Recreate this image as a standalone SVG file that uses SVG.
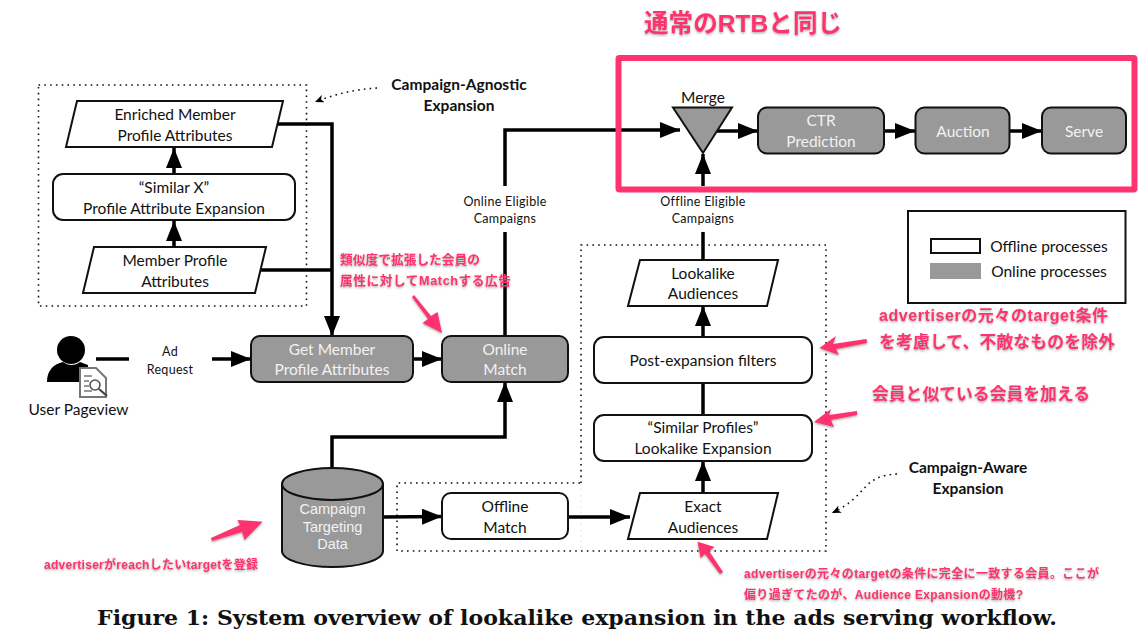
<svg xmlns="http://www.w3.org/2000/svg" width="1148" height="643" viewBox="0 0 1148 643">
<style>
text{font-family:"Lato","Open Sans",sans-serif;text-anchor:middle;fill:#111}
.l{font-size:15.5px}.w{font-size:15.5px;fill:#f2f2f2}
.s{font-size:12.5px;letter-spacing:.3px}
.b{font-size:15.5px;font-weight:700}
.d{font-family:"Liberation Sans",sans-serif;font-size:14.5px;fill:#f2f2f2}
.box{fill:#fff;stroke:#111;stroke-width:2}
.on{fill:#999;stroke:#111;stroke-width:2}
.c{fill:none;stroke:#000;stroke-width:3.5}
.dot{fill:none;stroke:#111;stroke-width:1.6;stroke-dasharray:1.6 4.2}
.p{font-family:"Liberation Sans","Noto Sans CJK JP",sans-serif;font-weight:700;fill:#ff3370;text-anchor:start;filter:url(#sh)}
.pa{fill:#ff3370;filter:url(#sh)}
</style>
<defs>
<marker id="a" markerUnits="userSpaceOnUse" markerWidth="20" markerHeight="16" refX="20" refY="8" orient="auto"><path d="M0 0L20 8L0 16z" fill="#000"/></marker>
<marker id="d" markerUnits="userSpaceOnUse" markerWidth="10" markerHeight="8" refX="9" refY="4" orient="auto"><path d="M0 0L9 4L0 8L2.5 4z" fill="#000"/></marker>
<filter id="sh" x="-10%" y="-30%" width="120%" height="170%"><feDropShadow dx="0" dy="1.2" stdDeviation="1" flood-color="#555" flood-opacity=".55"/></filter>
</defs>

<g id="regions">
<rect class="dot" x="38.5" y="85" width="268" height="221"/>
<path class="dot" d="M581 483V245H826V551H397V483H581"/>
<path d="M581 483V551" fill="none" stroke="#ddd" stroke-width="1" stroke-dasharray="1.6 4.2"/>
</g>

<g id="connectors">
<path class="c" d="M278 124H332V336" marker-end="url(#a)"/>
<path class="c" d="M261 270H332"/>
<path class="c" d="M174 174V148" marker-end="url(#a)"/>
<path class="c" d="M174 247V221" marker-end="url(#a)"/>
<path class="c" d="M96 359H129"/>
<path class="c" d="M212 359H251" marker-end="url(#a)"/>
<path class="c" d="M413 359H442" marker-end="url(#a)"/>
<path class="c" d="M505 336V232"/>
<path class="c" d="M505 186V130H680" marker-end="url(#a)"/>
<path class="c" d="M715 131H758" marker-end="url(#a)"/>
<path class="c" d="M884 131H915" marker-end="url(#a)"/>
<path class="c" d="M1010 131H1042" marker-end="url(#a)"/>
<path class="c" d="M703 186V154" marker-end="url(#a)"/>
<path class="c" d="M703 260V232"/>
<path class="c" d="M703 337V306" marker-end="url(#a)"/>
<path class="c" d="M703 415V383"/>
<path class="c" d="M703 493V461" marker-end="url(#a)"/>
<path class="c" d="M332 468V437H505V382" marker-end="url(#a)"/>
<path class="c" d="M383 517L442 516.500" marker-end="url(#a)"/>
<path class="c" d="M568 517H630" marker-end="url(#a)"/>
<path class="dot" d="M377 88Q345 90 315 102" marker-end="url(#d)"/>
<path class="dot" d="M897 474C860 476 870 495 832 513" marker-end="url(#d)"/>
</g>

<g id="enriched"><path class="box" d="M77 101H283L272 147H66z"/><text class="l" x="175" y="120">Enriched Member</text><text class="l" x="175" y="141">Profile Attributes</text></g>
<g id="similar-x"><rect class="box" x="53" y="174" width="242" height="46" rx="10"/><text class="l" x="174" y="193">“Similar X”</text><text class="l" x="174" y="214">Profile Attribute Expansion</text></g>
<g id="member"><path class="box" d="M94 247H266L255 293H83z"/><text class="l" x="175" y="266">Member Profile</text><text class="l" x="175" y="287">Attributes</text></g>

<g id="user">
<circle cx="71" cy="350" r="14" fill="#000"/>
<path d="M47 382C47 370 54 364 63 362C68 366 75 366 80 362L88 365V382z" fill="#000"/>
<path d="M80 368H96L106 378V397H80z" fill="#fff" stroke="#777" stroke-width="2"/>
<path d="M84 376H92M84 381H89M84 386H89M84 391H92" stroke="#777" stroke-width="1.5" fill="none"/>
<circle cx="95" cy="385" r="5" fill="#fff" stroke="#555" stroke-width="1.6"/><path d="M99 389L107 396" stroke="#444" stroke-width="2.200"/>
<text class="l" x="78.500" y="415">User Pageview</text>
</g>
<text class="s" x="170" y="356">Ad</text><text class="s" x="170" y="374">Request</text>

<g id="get-member"><rect class="on" x="251" y="336" width="162" height="46" rx="9"/><text class="w" x="332" y="355">Get Member</text><text class="w" x="332" y="375">Profile Attributes</text></g>
<g id="online-match"><rect class="on" x="442" y="336" width="126" height="46" rx="9"/><text class="w" x="505" y="355">Online</text><text class="w" x="505" y="375">Match</text></g>
<text class="s" x="505" y="206">Online Eligible</text><text class="s" x="505" y="223">Campaigns</text>

<g id="merge"><path d="M673 107.500H732L703 153z" fill="#999" stroke="#111" stroke-width="2"/><text class="l" x="703" y="103">Merge</text></g>
<g id="ctr"><rect class="on" x="758" y="107.500" width="126" height="46" rx="9"/><text class="w" x="821" y="126">CTR</text><text class="w" x="821" y="147">Prediction</text></g>
<g id="auction"><rect class="on" x="915.500" y="107.500" width="94" height="46" rx="9"/><text class="w" x="963" y="136.500">Auction</text></g>
<g id="serve"><rect class="on" x="1042" y="107.500" width="84" height="46" rx="9"/><text class="w" x="1084" y="136.500">Serve</text></g>
<text class="s" x="703" y="206">Offline Eligible</text><text class="s" x="703" y="223">Campaigns</text>

<g id="legend"><rect x="908" y="211" width="217.500" height="92" fill="#fff" stroke="#111" stroke-width="2"/>
<rect x="931" y="239" width="49" height="14" fill="#fff" stroke="#111" stroke-width="2"/><rect x="930" y="263" width="51" height="16" fill="#999"/>
<text class="l" x="1049" y="252">Offline processes</text><text class="l" x="1049" y="277">Online processes</text></g>

<g id="lookalike"><path class="box" d="M640 260H778L767 306H628z"/><text class="l" x="703" y="279">Lookalike</text><text class="l" x="703" y="299">Audiences</text></g>
<g id="post"><rect class="box" x="594" y="337" width="218" height="46" rx="10"/><text class="l" x="703" y="366">Post-expansion filters</text></g>
<g id="similar-profiles"><rect class="box" x="594" y="415" width="218" height="46" rx="10"/><text class="l" x="703" y="433">“Similar Profiles”</text><text class="l" x="703" y="454">Lookalike Expansion</text></g>
<g id="exact"><path class="box" d="M640 493H778L767 539H628z"/><text class="l" x="703" y="512">Exact</text><text class="l" x="703" y="533">Audiences</text></g>
<g id="offline-match"><rect class="box" x="442" y="493" width="126" height="46" rx="9"/><text class="l" x="505" y="512">Offline</text><text class="l" x="505" y="533">Match</text></g>

<g id="cylinder"><path class="on" d="M282 484V551C282 560 305 567 332.500 567S383 560 383 551V484z"/><ellipse class="on" cx="332.500" cy="484" rx="50.500" ry="16"/>
<text class="d" x="332.500" y="514">Campaign</text><text class="d" x="332.500" y="532">Targeting</text><text class="d" x="332.500" y="549">Data</text></g>

<text class="b" x="459" y="90">Campaign-Agnostic</text><text class="b" x="459" y="111">Expansion</text>
<text class="b" x="968" y="473">Campaign-Aware</text><text class="b" x="968" y="494">Expansion</text>

<g id="annotations">
<rect x="618.500" y="58" width="516" height="131.500" fill="none" stroke="#ff3370" stroke-width="6" rx="1"/>
<text class="p" x="644" y="32" textLength="198" style="font-size:24.500px">通常のRTBと同じ</text>
<text class="p" x="340" y="264" textLength="140" style="font-size:12.700px">類似度で拡張した会員の</text>
<text class="p" x="340" y="285" textLength="171" style="font-size:12.700px">属性に対してMatchする広告</text>
<text class="p" x="44" y="569" textLength="214" style="font-size:12px">advertiserがreachしたいtargetを登録</text>
<text class="p" x="879" y="321" textLength="229" style="font-size:16px">advertiserの元々のtarget条件</text>
<text class="p" x="879" y="348" textLength="236" style="font-size:16.800px">を考慮して、不敵なものを除外</text>
<text class="p" x="872" y="400" textLength="218" style="font-size:16.800px">会員と似ている会員を加える</text>
<text class="p" x="744" y="578" textLength="355" style="font-size:12px">advertiserの元々のtargetの条件に完全に一致する会員。ここが</text>
<text class="p" x="744" y="599" textLength="279" style="font-size:12px">偏り過ぎてたのが、Audience Expansionの動機?</text>
<path class="pa" d="M414 295L431 316L437.500 312L442 333L422.500 323L428 319L412 297z"/>
<path class="pa" d="M211 538L240 525L237.500 520L262.500 521.700L244.600 540L242 532L212 541z"/>
<path class="pa" d="M866.500 339L833 344L836 336L819.500 348L839 355L836 349L867 343z"/>
<path class="pa" d="M857 411L829 415L831 409L814 422L834 427L831 420L857 415z"/>
<path class="pa" d="M723 572L709 551L714.500 547L697.600 541.700L700.600 558L705 554L720 574z"/>
</g>

<text id="caption" x="577" y="625" style="font-family:'DejaVu Serif','Liberation Serif',serif;font-weight:700;font-size:20px;fill:#111" textLength="960" lengthAdjust="spacingAndGlyphs">Figure 1: System overview of lookalike expansion in the ads serving workflow.</text>
</svg>
